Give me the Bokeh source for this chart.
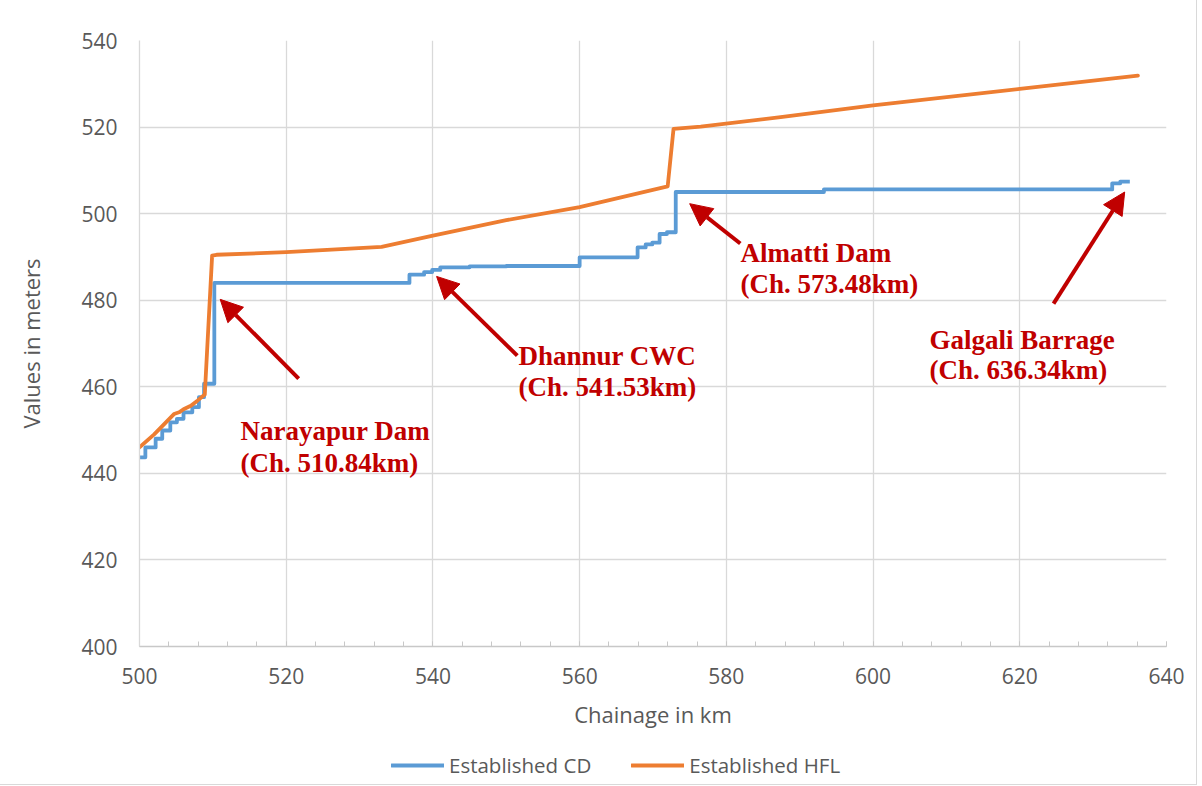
from bokeh.plotting import figure
from bokeh.layouts import column
from bokeh.models import (Range1d, SingleIntervalTicker, Arrow, NormalHead, Legend,
                          LegendItem, ColumnDataSource)
from bokeh.core.properties import value
from bokeh.embed import file_html
from bokeh.resources import INLINE

# ---- data ----
cd_chainage = [500.0, 500.8, 502.2, 503.1, 504.2, 505.1, 506.0, 507.2, 508.1, 508.8,
               509.9, 510.2, 536.8, 538.8, 539.9, 541.0, 545.0, 550.0, 560.0, 567.9,
               569.0, 569.9, 570.9, 571.9, 573.1, 593.3, 632.6, 633.7, 635.0]
cd_level = [443.7, 446.0, 448.0, 449.9, 451.8, 452.6, 454.1, 455.3, 457.6, 460.7,
            460.7, 484.0, 485.9, 486.5, 487.0, 487.6, 487.8, 487.9, 489.9, 492.2,
            492.9, 493.3, 495.3, 495.7, 505.0, 505.6, 507.0, 507.4, 507.4]

hfl_chainage = [500.0, 502.0, 504.7, 505.4, 506.0, 507.0, 507.9, 508.9, 509.9, 510.5,
                520.0, 533.0, 540.0, 550.0, 560.0, 572.0, 572.8, 576.5, 587.4, 600.0,
                620.0, 636.1]
hfl_level = [446.0, 449.0, 453.7, 454.1, 454.8, 455.6, 456.8, 458.2, 490.3, 490.5,
             491.1, 492.3, 494.9, 498.5, 501.5, 506.3, 519.6, 520.1, 522.3, 525.0,
             528.8, 531.9]

series_names = ["Established CD", "Established HFL"]

annot_line1 = ["Narayapur Dam", "Dhannur CWC", "Almatti Dam", "Galgali Barrage"]
annot_line2 = ["(Ch. 510.84km)", "(Ch. 541.53km)", "(Ch. 573.48km)", "(Ch. 636.34km)"]
annot_x = [513.77, 551.66, 581.92, 607.69]
annot_y1 = [449.9, 467.0, 491.0, 470.8]
annot_y2 = [442.5, 459.85, 483.8, 463.9]
arrow_tail_x = [521.7, 551.5, 581.9, 624.6]
arrow_tail_y = [461.9, 467.2, 493.1, 479.2]
arrow_head_x = [511.0, 540.5, 575.0, 634.3]
arrow_head_y = [480.2, 485.5, 502.3, 505.0]

BLUE = "#5B9BD5"
ORANGE = "#ED7D31"
RED = "#C00000"
GRID = "#D9D9D9"
TXT = "#595959"

p = figure(width=1196, height=744, output_backend="svg", toolbar_location=None,
           x_range=Range1d(500, 640), y_range=Range1d(400, 540),
           min_border_left=139, min_border_right=30, min_border_top=40,
           min_border_bottom=98)
p.outline_line_color = None

# axes
p.xaxis.ticker = SingleIntervalTicker(interval=20, num_minor_ticks=5)
p.yaxis.ticker = SingleIntervalTicker(interval=20, num_minor_ticks=0)
for ax in (p.xaxis, p.yaxis):
    ax.major_label_text_font = "Open Sans"
    ax.major_label_text_font_size = "21px"
    ax.major_label_text_color = TXT
    ax.axis_label_text_font = "Open Sans"
    ax.axis_label_text_font_size = "22px"
    ax.axis_label_text_font_style = "normal"
    ax.axis_label_text_color = TXT
p.xaxis.axis_label = "Chainage in km"
p.yaxis.axis_label = "Values in meters"
p.xaxis.axis_line_color = "#C8C8C8"
p.xaxis.axis_line_width = 1.3
p.xaxis.major_tick_in = 5
p.xaxis.major_tick_out = 0
p.xaxis.minor_tick_in = 5
p.xaxis.minor_tick_out = 0
p.xaxis.major_tick_line_color = "#C8C8C8"
p.xaxis.minor_tick_line_color = "#C8C8C8"
p.xaxis.major_label_standoff = 21
p.xaxis.axis_label_standoff = 12
p.yaxis.axis_line_color = GRID
p.yaxis.axis_line_width = 1.3
p.yaxis.major_tick_in = 0
p.yaxis.major_tick_out = 0
p.yaxis.minor_tick_line_color = None
p.yaxis.major_label_standoff = 22
p.yaxis.axis_label_standoff = 32

p.xgrid.grid_line_color = GRID
p.xgrid.grid_line_width = 1.3
p.ygrid.grid_line_color = GRID
p.ygrid.grid_line_width = 1.3

# series
p.step(cd_chainage, cd_level, mode="after", line_color=BLUE, line_width=3.8,
       line_join="round")
p.line(hfl_chainage, hfl_level, line_color=ORANGE, line_width=3.8,
       line_join="round", line_cap="round")

# annotations
arrow_src = ColumnDataSource(dict(x0=arrow_tail_x, y0=arrow_tail_y,
                                  x1=arrow_head_x, y1=arrow_head_y))
p.add_layout(Arrow(end=NormalHead(size=22, fill_color=RED, line_color=RED),
                   x_start="x0", y_start="y0", x_end="x1", y_end="y1",
                   source=arrow_src, line_color=RED, line_width=4))

for ys, texts in ((annot_y1, annot_line1), (annot_y2, annot_line2)):
    p.text(x=annot_x, y=ys, text=texts, text_font=value("Liberation Serif"),
           text_font_style="bold", text_font_size="27px", text_color=RED,
           text_align="left", text_baseline="middle")

# legend strip below the chart (series drawn outside its view, only the legend shows)
lg = figure(width=1196, height=40, output_backend="svg", toolbar_location=None,
            x_range=Range1d(0, 1), y_range=Range1d(0, 1),
            x_axis_type=None, y_axis_type=None, min_border=0)
lg.outline_line_color = None
lg.xgrid.visible = False
lg.ygrid.visible = False
r_cd = lg.line(cd_chainage, cd_level, line_color=BLUE, line_width=3.8, line_cap="round")
r_hfl = lg.line(hfl_chainage, hfl_level, line_color=ORANGE, line_width=3.8,
                line_cap="round")
legend = Legend(items=[LegendItem(label=series_names[0], renderers=[r_cd]),
                       LegendItem(label=series_names[1], renderers=[r_hfl])],
                orientation="horizontal", location=(252, 5),
                glyph_width=53, glyph_height=20, label_standoff=5, spacing=40,
                padding=0, margin=0, border_line_color=None,
                background_fill_alpha=0, label_text_font="Open Sans",
                label_text_font_size="20.5px", label_text_color=TXT)
lg.add_layout(legend, "center")

layout = column(p, lg, spacing=0)
layout.styles = {"outline": "1px solid #D9D9D9"}

open("out.html", "w").write(file_html(layout, INLINE))
